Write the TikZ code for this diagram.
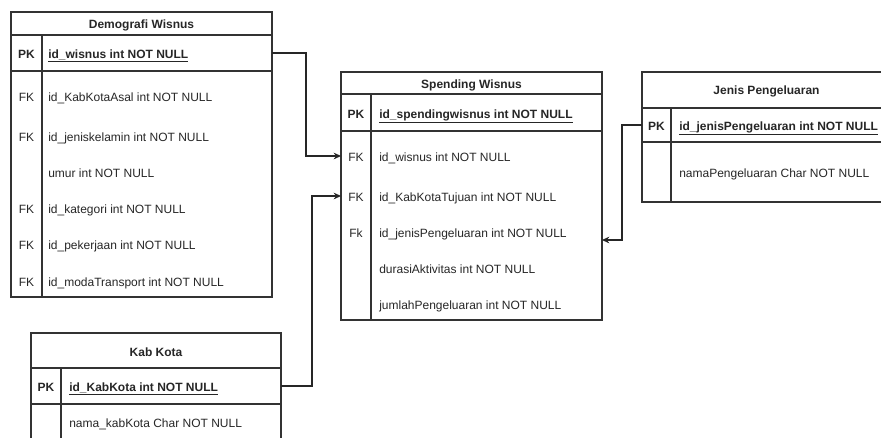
\documentclass[tikz,border=0pt]{standalone}
\usepackage{fontspec}
\setmainfont{Liberation Sans}
\usetikzlibrary{fit,arrows.meta}

\begin{document}
\begin{tikzpicture}[x=0.75pt,y=-0.75pt,
  frame/.style={draw=black!80, line width=1pt, inner sep=0pt, outer sep=0pt},
  rowspan/.style={inner sep=0pt, outer sep=0pt},
  divider/.style={draw=black!80, line width=1pt},
  tbltitle/.style={anchor=base, inner sep=0pt, text=black!85, font=\bfseries\fontsize{9}{11}\selectfont},
  keytext/.style={anchor=base, inner sep=0pt, text=black!85, font=\fontsize{9}{11}\selectfont},
  pkkey/.style={keytext, font=\bfseries\fontsize{9}{11}\selectfont},
  fieldtext/.style={anchor=base west, inner sep=0pt, text=black!85, font=\fontsize{9}{11}\selectfont},
  pkfield/.style={fieldtext, font=\bfseries\fontsize{9}{11}\selectfont},
  link/.style={draw=black!85, line width=0.8pt, -{Stealth[length=5.5pt,width=5pt]}}]

\useasboundingbox (0,0) rectangle (881,437);
\clip (0,0) rectangle (881,437);

% ---------- Demografi Wisnus ----------
\node[frame, fit={(11,12) (272,35)}]  (dw-head) {};
\node[frame, fit={(11,35) (272,71)}]  (dw-pk) {};
\node[frame, fit={(11,71) (272,297)}] (dw-body) {};
\draw[divider] (42,35) -- (42,297);
\node[tbltitle] (dw-t) at (141.5,28) {Demografi Wisnus};
\node[pkkey]    (dw-k0) at (26.5,58) {PK};
\node[pkfield]  (dw-f0) at (48,58) {\underline{id\_wisnus int NOT NULL}};
\node[keytext]  (dw-k1) at (26.5,101) {FK};
\node[fieldtext](dw-f1) at (48,101) {id\_KabKotaAsal int NOT NULL};
\node[keytext]  (dw-k2) at (26.5,141) {FK};
\node[fieldtext](dw-f2) at (48,141) {id\_jeniskelamin int NOT NULL};
\node[fieldtext](dw-f3) at (48,177) {umur int NOT NULL};
\node[keytext]  (dw-k4) at (26.5,213) {FK};
\node[fieldtext](dw-f4) at (48,213) {id\_kategori int NOT NULL};
\node[keytext]  (dw-k5) at (26.5,249) {FK};
\node[fieldtext](dw-f5) at (48,249) {id\_pekerjaan int NOT NULL};
\node[keytext]  (dw-k6) at (26.5,286) {FK};
\node[fieldtext](dw-f6) at (48,286) {id\_modaTransport int NOT NULL};

% ---------- Spending Wisnus ----------
\node[frame, fit={(341,72) (602,94)}]   (sw-head) {};
\node[frame, fit={(341,94) (602,131)}]  (sw-pk) {};
\node[frame, fit={(341,131) (602,320)}] (sw-body) {};
\draw[divider] (371,94) -- (371,320);
\node[tbltitle] (sw-t) at (471.5,88) {Spending Wisnus};
\node[pkkey]    (sw-k0) at (356,118) {PK};
\node[pkfield]  (sw-f0) at (379,118) {\underline{id\_spendingwisnus int NOT NULL}};
\node[rowspan, fit={(341,147) (602,165)}] (sw-r1) {};
\node[keytext]  (sw-k1) at (356,161) {FK};
\node[fieldtext](sw-f1) at (379,161) {id\_wisnus int NOT NULL};
\node[rowspan, fit={(341,187) (602,205)}] (sw-r2) {};
\node[keytext]  (sw-k2) at (356,201) {FK};
\node[fieldtext](sw-f2) at (379,201) {id\_KabKotaTujuan int NOT NULL};
\node[keytext]  (sw-k3) at (356,237) {Fk};
\node[fieldtext](sw-f3) at (379,237) {id\_jenisPengeluaran int NOT NULL};
\node[fieldtext](sw-f4) at (379,273) {durasiAktivitas int NOT NULL};
\node[fieldtext](sw-f5) at (379,309) {jumlahPengeluaran int NOT NULL};
\coordinate (sw-in) at (602,240);

% ---------- Jenis Pengeluaran ----------
\node[frame, fit={(642,72) (891,108)}]  (jp-head) {};
\node[frame, fit={(642,108) (891,142)}] (jp-pk) {};
\node[frame, fit={(642,142) (891,202)}] (jp-body) {};
\draw[divider] (671,108) -- (671,202);
\node[tbltitle] (jp-t) at (766.5,94) {Jenis Pengeluaran};
\node[pkkey]    (jp-k0) at (656.5,130) {PK};
\node[pkfield]  (jp-f0) at (679,130) {\underline{id\_jenisPengeluaran int NOT NULL}};
\node[fieldtext](jp-f1) at (679,177) {namaPengeluaran Char NOT NULL};

% ---------- Kab Kota ----------
\node[frame, fit={(31,333) (281,368)}] (kk-head) {};
\node[frame, fit={(31,368) (281,404)}] (kk-pk) {};
\node[frame, fit={(31,404) (281,460)}] (kk-body) {};
\draw[divider] (61,368) -- (61,460);
\node[tbltitle] (kk-t) at (156,356) {Kab Kota};
\node[pkkey]    (kk-k0) at (46,391) {PK};
\node[pkfield]  (kk-f0) at (69,391) {\underline{id\_KabKota int NOT NULL}};
\node[fieldtext](kk-f1) at (69,427) {nama\_kabKota Char NOT NULL};

% ---------- Relationships ----------
\draw[link] (dw-pk.east) -- ++(34,0) |- (sw-r1.west);
\draw[link] (kk-pk.east) -- ++(31,0) |- (sw-r2.west);
\draw[link] (jp-pk.west) -- ++(-20,0) |- (sw-in);

\end{tikzpicture}
\end{document}
